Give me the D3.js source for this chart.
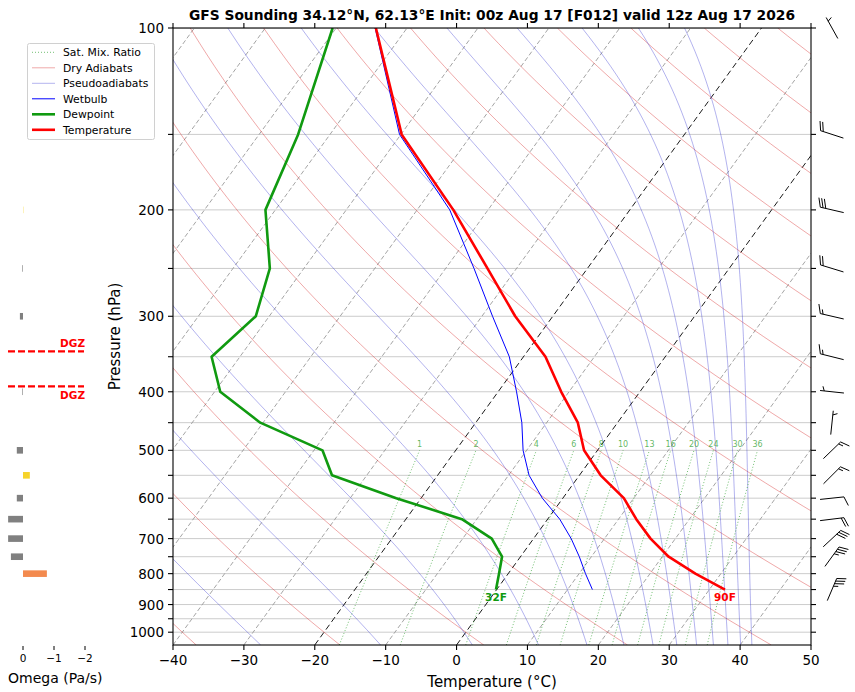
<!DOCTYPE html>
<html>
<head>
<meta charset="utf-8">
<script src="https://cdn.jsdelivr.net/npm/d3@7"></script>
<style>
    body { margin: 0; background: #fff; }
    text { font-family: "DejaVu Sans", sans-serif; }
</style>
</head>
<body>
<svg id="chart" width="855" height="692"></svg>
<script>
(function() {
    'use strict';

    // Sounding levels (hPa)
    var levels = [850, 800, 750, 700, 650, 600, 550, 500, 450, 400, 350, 300, 250, 200, 150, 100];
    // Profiles (degC)
    var temperature = [32.2, 26.4, 20.9, 16.5, 12.5, 8.6, 3.0, -1.9, -5.6, -11.1, -16.9, -25.3, -34.1, -44.9, -59.9, -74.4];
    var dewpoint = [-0.1, -1.3, -2.6, -5.9, -12.1, -23.5, -34.9, -38.8, -50.4, -59.2, -64.0, -61.9, -64.8, -71.4, -74.5, -80.5];
    var wetbulb = [13.5, 10.9, 8.3, 5.3, 1.7, -2.9, -7.1, -10.5, -13.5, -17.4, -22.0, -28.5, -36.0, -45.4, -60.2, -74.5];

    // Winds (direction deg, speed kt)
    var windLevels = [850, 750, 700, 650, 600, 550, 500, 450, 400, 350, 300, 250, 200, 150, 100];
    var windDir = [23, 36, 47, 83, 84, 45, 46, 6, 276, 284, 283, 287, 283, 288, 331];
    var windSpd = [35, 35, 30, 20, 10, 15, 15, 5, 5, 15, 15, 20, 30, 20, 5];

    // Omega (Pa/s)
    var omegaLevels = [800, 750, 700, 650, 600, 550, 500, 400, 300, 250, 200];
    var omegaValues = [-0.77, 0.39, 0.48, 0.48, 0.2, -0.22, 0.2, 0.02, 0.1, 0.02, -0.01];

    // Reference lines
    var isotherms = d3.range(-120, 51, 10);
    var dryThetaC = d3.range(-60, 281, 20);          // potential temperature, degC
    var moistThetaE = d3.range(243.15, 484, 20);      // equivalent potential temperature, K
    var mixRatios = [1, 2, 4, 6, 8, 10, 13, 16, 20, 24, 30, 36];

    // Tick labels
    var tempTicks = d3.range(-40, 51, 10);
    var presTicks = d3.range(100, 1001, 50);
    var presLabels = [100, 200, 300, 400, 500, 600, 700, 800, 900, 1000];
    var omegaTicks = [0, -1, -2];

    var title = 'GFS Sounding 34.12\u00b0N, 62.13\u00b0E Init: 00z Aug 17 [F012] valid 12z Aug 17 2026';

    // Layout
    var plot = { left: 173, right: 811, top: 28, bottom: 645 };
    var width = plot.right - plot.left,
        height = plot.bottom - plot.top;
    var skew = Math.tan(35 * Math.PI / 180) * width / height;

    var svg = d3.select('#chart');

    // Scales
    var x = d3.scaleLinear().domain([-40, 50]).range([plot.left, plot.right]);
    var y = d3.scaleLog().domain([1050, 100]).range([plot.bottom, plot.top]);
    var xOmega = d3.scaleLinear().domain([0, -2]).range([23, 85]);

    function sx(t, p) { return x(t) + (plot.bottom - y(p)) * skew; }

    var line = d3.line()
        .x(function(d) { return sx(d[0], d[1]); })
        .y(function(d) { return y(d[1]); });

    var presFine = d3.range(0, 81).map(function(i) { return 1050 * Math.pow(100 / 1050, i / 80); });
    var presLow = d3.range(0, 31).map(function(i) { return 1050 * Math.pow(500 / 1050, i / 30); });

    // Thermo helpers
    function satVap(tc) { return 6.112 * Math.exp(17.67 * tc / (tc + 243.5)); }
    function thetaESat(tk, p) {
        var es = satVap(tk - 273.15);
        if (es > 0.5 * p) return Infinity;
        var r = 622 * es / (p - es);
        return tk * Math.pow(1000 / p, 0.2854 * (1 - 0.00028 * r)) *
            Math.exp((3.376 / tk - 0.00254) * r * (1 + 0.00081 * r));
    }
    function moistTemp(te, p) {
        var lo = 120, hi = 340;
        for (var i = 0; i < 50; i++) {
            var mid = (lo + hi) / 2;
            if (thetaESat(mid, p) > te) hi = mid; else lo = mid;
        }
        return (lo + hi) / 2 - 273.15;
    }
    function mixTemp(w, p) {
        var e = w * p / (622 + w);
        var l = Math.log(e / 6.112);
        return 243.5 * l / (17.67 - l);
    }

    svg.append('defs').append('clipPath').attr('id', 'plotClip')
        .append('rect')
        .attr('x', plot.left).attr('y', plot.top)
        .attr('width', width).attr('height', height);

    var g = svg.append('g').attr('clip-path', 'url(#plotClip)');

    // Horizontal pressure grid
    g.selectAll('.hgrid').data(presTicks).enter().append('line')
        .attr('x1', plot.left).attr('x2', plot.right)
        .attr('y1', function(d) { return y(d); }).attr('y2', function(d) { return y(d); })
        .attr('stroke', '#cccccc').attr('stroke-width', 1);

    // Skewed isotherms
    g.selectAll('.iso').data(isotherms).enter().append('path')
        .attr('d', function(t) { return line([[t, 1050], [t, 100]]); })
        .attr('fill', 'none')
        .attr('stroke', function(t) { return (t === 0 || t === -20) ? '#1a1a1a' : '#9a9a9a'; })
        .attr('stroke-width', function(t) { return (t === 0 || t === -20) ? 1 : 0.9; })
        .attr('stroke-dasharray', function(t) { return (t === 0 || t === -20) ? '6,3.5' : '4.5,2.5'; });

    // Dry adiabats
    g.selectAll('.dry').data(dryThetaC).enter().append('path')
        .attr('d', function(th) {
            return line(presFine.map(function(p) {
                return [(th + 273.15) * Math.pow(p / 1000, 0.2857) - 273.15, p];
            }));
        })
        .attr('fill', 'none').attr('stroke', '#d62728')
        .attr('stroke-opacity', 0.5).attr('stroke-width', 0.8);

    // Pseudoadiabats
    g.selectAll('.moist').data(moistThetaE).enter().append('path')
        .attr('d', function(te) {
            return line(presFine.map(function(p) { return [moistTemp(te, p), p]; }));
        })
        .attr('fill', 'none').attr('stroke', '#2a2ad0')
        .attr('stroke-opacity', 0.45).attr('stroke-width', 0.8);

    // Saturation mixing ratio lines
    g.selectAll('.mix').data(mixRatios).enter().append('path')
        .attr('d', function(w) {
            return line(presLow.map(function(p) { return [mixTemp(w, p), p]; }));
        })
        .attr('fill', 'none').attr('stroke', '#2ca02c')
        .attr('stroke-opacity', 0.75).attr('stroke-width', 0.9)
        .attr('stroke-dasharray', '1,2');

    g.selectAll('.mixlab').data(mixRatios).enter().append('text')
        .attr('x', function(w) { return sx(mixTemp(w, 500), 500); })
        .attr('y', y(500) - 3)
        .attr('text-anchor', 'middle')
        .style('font-size', '8px')
        .style('fill', '#2ca02c').style('fill-opacity', 0.75)
        .text(function(w) { return w; });

    // Profiles
    function profile(vals) {
        return levels.map(function(p, i) { return [vals[i], p]; });
    }
    g.append('path').attr('d', line(profile(wetbulb)))
        .attr('fill', 'none').attr('stroke', '#0000ff').attr('stroke-width', 1);
    g.append('path').attr('d', line(profile(dewpoint)))
        .attr('fill', 'none').attr('stroke', '#109a10').attr('stroke-width', 2.6)
        .attr('stroke-linejoin', 'round');
    g.append('path').attr('d', line(profile(temperature)))
        .attr('fill', 'none').attr('stroke', '#ff0000').attr('stroke-width', 2.6)
        .attr('stroke-linejoin', 'round');

    // Surface labels in F
    function toF(c) { return Math.round(c * 9 / 5 + 32) + 'F'; }
    svg.append('text')
        .attr('x', sx(dewpoint[0], levels[0])).attr('y', y(levels[0]) + 11)
        .attr('text-anchor', 'middle')
        .style('font-size', '10.5px').style('font-weight', 'bold').style('fill', '#109a10')
        .text(toF(dewpoint[0]));
    svg.append('text')
        .attr('x', sx(temperature[0], levels[0])).attr('y', y(levels[0]) + 11)
        .attr('text-anchor', 'middle')
        .style('font-size', '10.5px').style('font-weight', 'bold').style('fill', '#ff0000')
        .text(toF(temperature[0]));

    // Axes
    var axes = svg.append('g');
    axes.append('rect')
        .attr('x', plot.left).attr('y', plot.top)
        .attr('width', width).attr('height', height)
        .attr('fill', 'none').attr('stroke', '#000').attr('stroke-width', 1.1);

    axes.selectAll('.xt').data(tempTicks).enter().append('line')
        .attr('x1', function(d) { return x(d); }).attr('x2', function(d) { return x(d); })
        .attr('y1', plot.bottom).attr('y2', plot.bottom + 5)
        .attr('stroke', '#000').attr('stroke-width', 1.1);
    axes.selectAll('.xtt').data(tempTicks).enter().append('line')
        .attr('x1', function(d) { return x(d); }).attr('x2', function(d) { return x(d); })
        .attr('y1', plot.top).attr('y2', plot.top - 5)
        .attr('stroke', '#000').attr('stroke-width', 1.1);
    axes.selectAll('.xl').data(tempTicks).enter().append('text')
        .attr('x', function(d) { return x(d); }).attr('y', plot.bottom + 20)
        .attr('text-anchor', 'middle')
        .style('font-size', '13.5px')
        .text(function(d) { return d < 0 ? '\u2212' + Math.abs(d) : d; });

    axes.selectAll('.yt').data(presTicks).enter().append('line')
        .attr('x1', plot.left - 5).attr('x2', plot.left)
        .attr('y1', function(d) { return y(d); }).attr('y2', function(d) { return y(d); })
        .attr('stroke', '#000').attr('stroke-width', 1.1);
    axes.selectAll('.ytr').data(presTicks).enter().append('line')
        .attr('x1', plot.right).attr('x2', plot.right + 5)
        .attr('y1', function(d) { return y(d); }).attr('y2', function(d) { return y(d); })
        .attr('stroke', '#000').attr('stroke-width', 1.1);
    axes.selectAll('.yl').data(presLabels).enter().append('text')
        .attr('x', plot.left - 9).attr('y', function(d) { return y(d) + 5; })
        .attr('text-anchor', 'end')
        .style('font-size', '13.5px')
        .text(function(d) { return d; });

    axes.append('text')
        .attr('x', (plot.left + plot.right) / 2).attr('y', 687)
        .attr('text-anchor', 'middle').style('font-size', '15px')
        .text('Temperature (\u00b0C)');
    axes.append('text')
        .attr('transform', 'translate(120,' + ((plot.top + plot.bottom) / 2) + ') rotate(-90)')
        .attr('text-anchor', 'middle').style('font-size', '15px')
        .text('Pressure (hPa)');
    axes.append('text')
        .attr('x', (plot.left + plot.right) / 2).attr('y', 20)
        .attr('text-anchor', 'middle')
        .style('font-size', '13.8px').style('font-weight', 'bold')
        .text(title);

    // Wind barbs
    function barbPath(cx, cy, dir, spd) {
        var L = 24, bl = 9, lean = 3.5, gap = 2.8;
        var r = dir * Math.PI / 180;
        var ux = Math.sin(r), uy = -Math.cos(r);
        var px = -uy, py = ux;
        var ex = cx + ux * L / 2, ey = cy + uy * L / 2;
        var s = 'M' + (cx - ux * L / 2) + ',' + (cy - uy * L / 2) + 'L' + ex + ',' + ey;
        var n10 = Math.floor(spd / 10), n5 = Math.round((spd - n10 * 10) / 5);
        var pos = (n10 === 0) ? gap * 1.5 : 0;
        var i, ax, ay;
        for (i = 0; i < n10; i++) {
            ax = ex - ux * pos; ay = ey - uy * pos;
            s += 'M' + ax + ',' + ay + 'L' + (ax + px * bl + ux * lean) + ',' + (ay + py * bl + uy * lean);
            pos += gap;
        }
        for (i = 0; i < n5; i++) {
            ax = ex - ux * pos; ay = ey - uy * pos;
            s += 'M' + ax + ',' + ay + 'L' + (ax + px * bl / 2 + ux * lean / 2) + ',' + (ay + py * bl / 2 + uy * lean / 2);
        }
        return s;
    }
    svg.append('g').selectAll('path').data(windLevels).enter().append('path')
        .attr('d', function(p, i) { return barbPath(832, y(p), windDir[i], windSpd[i]); })
        .attr('fill', 'none').attr('stroke', '#000').attr('stroke-width', 1);

    // Omega panel
    function omegaColor(v) {
        if (v >= 0) return '#808080';
        if (v > -0.5) return '#f6d32a';
        return '#f38a4e';
    }
    var og = svg.append('g');
    og.selectAll('rect').data(omegaLevels).enter().append('rect')
        .attr('x', function(p, i) { return Math.min(xOmega(0), xOmega(omegaValues[i])); })
        .attr('width', function(p, i) { return Math.abs(xOmega(omegaValues[i]) - xOmega(0)); })
        .attr('y', function(p) { return y(p) - 3.3; })
        .attr('height', 6.6)
        .attr('fill', function(p, i) { return omegaColor(omegaValues[i]); });

    og.selectAll('.ot').data(omegaTicks).enter().append('line')
        .attr('x1', function(d) { return xOmega(d); }).attr('x2', function(d) { return xOmega(d); })
        .attr('y1', 646).attr('y2', 650)
        .attr('stroke', '#000').attr('stroke-width', 1);
    og.selectAll('.ol').data(omegaTicks).enter().append('text')
        .attr('x', function(d) { return xOmega(d); }).attr('y', 662)
        .attr('text-anchor', 'middle').style('font-size', '10.5px')
        .text(function(d) { return d < 0 ? '\u2212' + Math.abs(d) : d; });
    og.append('text')
        .attr('x', 8).attr('y', 683)
        .style('font-size', '14px')
        .text('Omega (Pa/s)');

    // Dendritic growth zone (-12 to -18 degC) from the temperature profile
    function presAtTemp(tc) {
        for (var i = 0; i < levels.length - 1; i++) {
            var a = temperature[i], b = temperature[i + 1];
            if ((a - tc) * (b - tc) <= 0) {
                var f = (tc - a) / (b - a);
                return Math.exp(Math.log(levels[i]) + f * (Math.log(levels[i + 1]) - Math.log(levels[i])));
            }
        }
        return null;
    }
    var dgz = [presAtTemp(-18), presAtTemp(-12)];
    og.selectAll('.dgz').data(dgz).enter().append('line')
        .attr('x1', 8).attr('x2', 84)
        .attr('y1', function(p) { return y(p); }).attr('y2', function(p) { return y(p); })
        .attr('stroke', '#ff0000').attr('stroke-width', 2.2)
        .attr('stroke-dasharray', '7,3');
    og.selectAll('.dgzl').data(dgz).enter().append('text')
        .attr('x', 85)
        .attr('y', function(p, i) { return i === 0 ? y(p) - 4 : y(p) + 13; })
        .attr('text-anchor', 'end')
        .style('font-size', '10.5px').style('font-weight', 'bold').style('fill', '#ff0000')
        .text('DGZ');

    // Legend
    var legendItems = [
        { label: 'Sat. Mix. Ratio', color: '#2ca02c', w: 0.9, dash: '1,2', op: 0.75 },
        { label: 'Dry Adiabats', color: '#d62728', w: 0.8, dash: null, op: 0.5 },
        { label: 'Pseudoadiabats', color: '#2a2ad0', w: 0.8, dash: null, op: 0.45 },
        { label: 'Wetbulb', color: '#0000ff', w: 1, dash: null, op: 1 },
        { label: 'Dewpoint', color: '#109a10', w: 2.6, dash: null, op: 1 },
        { label: 'Temperature', color: '#ff0000', w: 2.6, dash: null, op: 1 }
    ];
    var lg = svg.append('g');
    lg.append('rect')
        .attr('x', 27.5).attr('y', 43.5).attr('width', 127).attr('height', 96)
        .attr('rx', 2).attr('fill', '#fff').attr('fill-opacity', 0.8)
        .attr('stroke', '#d0d0d0');
    var rows = lg.selectAll('g').data(legendItems).enter().append('g')
        .attr('transform', function(d, i) { return 'translate(0,' + (52.3 + i * 15.5) + ')'; });
    rows.append('line')
        .attr('x1', 32).attr('x2', 55).attr('y1', 0).attr('y2', 0)
        .attr('stroke', function(d) { return d.color; })
        .attr('stroke-width', function(d) { return d.w; })
        .attr('stroke-opacity', function(d) { return d.op; })
        .attr('stroke-dasharray', function(d) { return d.dash; });
    rows.append('text')
        .attr('x', 63).attr('y', 4)
        .style('font-size', '10.8px')
        .text(function(d) { return d.label; });
})();
</script>
</body>
</html>
